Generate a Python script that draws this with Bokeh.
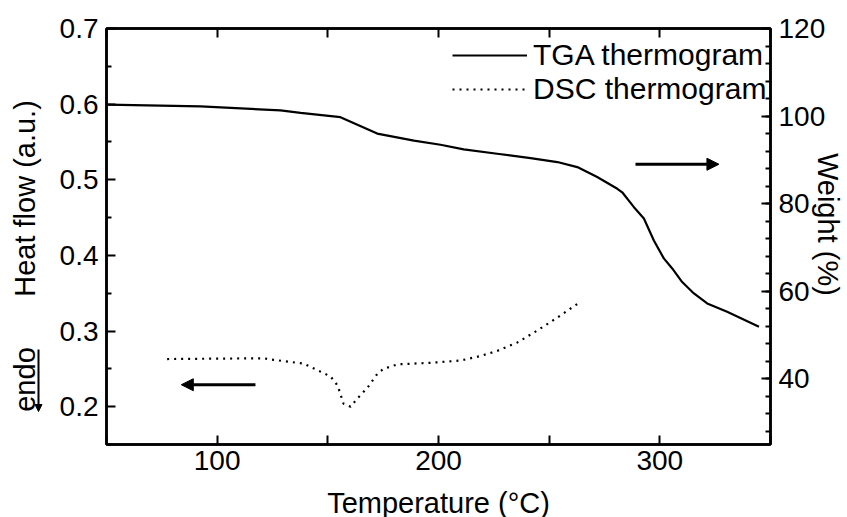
from math import pi
from bokeh.plotting import figure
from bokeh.layouts import row, column
from bokeh.models import (Range1d, LinearAxis, SingleIntervalTicker, FixedTicker,
                          Legend, LegendItem, Label, Arrow, NormalHead)
from bokeh.embed import file_html
from bokeh.resources import INLINE

# ---- data ----
tga_temp = [50.3, 92.5, 128.6, 137.7, 155.7, 172.3, 188.9, 200.9, 211.4, 226.5,
            241.6, 253.7, 262.7, 271.7, 280.8, 283.0, 288.3, 292.8, 297.3, 301.8,
            305.6, 310.1, 315.4, 321.4, 330.4, 344.8]
tga_weight = [102.6, 102.2, 101.3, 100.75, 99.75, 96.0, 94.4, 93.45, 92.4, 91.4,
              90.4, 89.5, 88.35, 86.1, 83.4, 82.6, 79.2, 76.6, 71.6, 67.5,
              65.2, 62.1, 59.5, 57.2, 55.3, 51.9]
dsc_temp = [77.4, 120.9, 125.5, 139.0, 151.2, 154.4, 157.1, 160.3, 163.4, 167.9,
            172.5, 175.2, 181.5, 196.4, 210.0, 219.0, 226.7, 235.7, 244.8, 253.8, 262.8]
dsc_heat = [0.263, 0.264, 0.262, 0.257, 0.240, 0.228, 0.204, 0.200, 0.211, 0.225,
            0.244, 0.250, 0.256, 0.258, 0.261, 0.267, 0.274, 0.285, 0.301, 0.318, 0.336]

x_major = [100, 200, 300]
x_minor = [50, 150, 250, 350]
heat_major = [0.2, 0.3, 0.4, 0.5, 0.6, 0.7]
heat_minor = [0.15, 0.25, 0.35, 0.45, 0.55, 0.65]
x_range = (50, 350)
heat_range = (0.15, 0.7)
weight_range = (25, 120)

# arrows pointing to the relevant axis (data units)
dsc_arrow = dict(x0=117.3, x1=83.8, y=0.229)
tga_arrow = dict(x0=289.0, x1=326.7, y=89.0)

FONT = "Liberation Sans"
TICK_FS = "28px"
LABEL_FS = "29px"
NBSP = "\u00a0"

W, H = 847, 517
BOTTOM_H = 30                      # strip under the plot holding the x-axis title
TOP_H = H - BOTTOM_H
FRAME_L, FRAME_R = 106, 770
FRAME_TOP, FRAME_BOTTOM = 28, 444
STRIP_W = 48

# ---------- left strip holding the left-hand axis title ----------
strip = figure(width=STRIP_W, height=TOP_H, x_range=Range1d(0, STRIP_W),
               y_range=Range1d(0, FRAME_BOTTOM - FRAME_TOP),
               output_backend="svg", toolbar_location=None,
               min_border_left=0, min_border_right=0,
               min_border_top=FRAME_TOP, min_border_bottom=TOP_H - FRAME_BOTTOM,
               x_axis_location=None, y_axis_location=None)
strip.grid.visible = False
strip.outline_line_color = None
strip.background_fill_color = "white"
strip.border_fill_color = "white"
strip.add_layout(Label(x=24, y=FRAME_BOTTOM - 198, text="Heat flow (a.u.)", angle=pi / 2,
                       text_align="center", text_baseline="middle",
                       text_font=FONT, text_font_size=LABEL_FS, text_color="black"))
strip.add_layout(Label(x=24, y=FRAME_BOTTOM - 379, text="endo", angle=pi / 2,
                       text_align="center", text_baseline="middle",
                       text_font=FONT, text_font_size=LABEL_FS, text_color="black"))
strip.add_layout(Arrow(x_start=38, y_start=FRAME_BOTTOM - 349, x_end=38, y_end=FRAME_BOTTOM - 411,
                       line_width=2, line_color="black",
                       end=NormalHead(size=7, fill_color="black", line_color="black")))

# ---------- main plot ----------
p = figure(width=W - STRIP_W, height=TOP_H, x_range=Range1d(*x_range), y_range=Range1d(*heat_range),
           output_backend="svg", toolbar_location=None,
           min_border_left=FRAME_L - STRIP_W, min_border_right=W - FRAME_R,
           min_border_top=FRAME_TOP, min_border_bottom=TOP_H - FRAME_BOTTOM)
p.extra_y_ranges = {"w": Range1d(*weight_range)}
p.grid.visible = False
p.background_fill_color = "white"
p.border_fill_color = "white"
p.outline_line_color = "black"
p.outline_line_width = 2.5


def style_axis(ax):
    ax.axis_line_width = 2.5
    ax.axis_line_color = "black"
    ax.major_tick_in = 9
    ax.major_tick_out = 0
    ax.minor_tick_in = 5
    ax.minor_tick_out = 0
    ax.major_tick_line_width = 2
    ax.minor_tick_line_width = 2
    ax.major_tick_line_color = "black"
    ax.minor_tick_line_color = "black"
    ax.major_label_text_font = FONT
    ax.major_label_text_font_size = TICK_FS
    ax.major_label_text_color = "black"
    ax.major_label_standoff = 8
    ax.axis_label_text_font = FONT
    ax.axis_label_text_font_size = LABEL_FS
    ax.axis_label_text_font_style = "normal"
    ax.axis_label_text_color = "black"


# bottom axis
xa = p.xaxis[0]
xa.ticker = FixedTicker(ticks=x_major, minor_ticks=x_minor)
style_axis(xa)
xa.minor_tick_in = 9
xa.major_label_standoff = 6

# left axis
ya = p.yaxis[0]
ya.ticker = FixedTicker(ticks=heat_major, minor_ticks=heat_minor)
style_axis(ya)

# right axis (weight)
ra = LinearAxis(y_range_name="w", ticker=SingleIntervalTicker(interval=20, num_minor_ticks=5))
style_axis(ra)
ra.axis_label = "Weight (%)" + NBSP * 3
ra.axis_label_standoff = -16
p.add_layout(ra, "right")

# top axis: ticks only
ta = LinearAxis(ticker=FixedTicker(ticks=x_major, minor_ticks=x_minor),
                major_label_overrides={t: "" for t in x_major})
style_axis(ta)
ta.minor_tick_in = 9
ta.major_label_text_font_size = "0px"
ta.major_label_standoff = 0
p.add_layout(ta, "above")

tga = p.line(tga_temp, tga_weight, y_range_name="w", line_color="black", line_width=2.2)
dsc = p.line(dsc_temp, dsc_heat, line_color="black", line_width=2.2, line_dash="2 5")

legend = Legend(items=[LegendItem(label="TGA thermogram", renderers=[tga]),
                       LegendItem(label="DSC thermogram", renderers=[dsc])],
                location=(346, 338), margin=0, padding=0, spacing=0,
                glyph_width=75, label_standoff=6,
                label_text_font=FONT, label_text_font_size="30px", label_text_color="black",
                border_line_color=None, background_fill_alpha=0)
p.add_layout(legend)

# arrows
p.add_layout(Arrow(x_start=dsc_arrow["x0"], y_start=dsc_arrow["y"], x_end=dsc_arrow["x1"], y_end=dsc_arrow["y"],
                   line_width=3, line_color="black",
                   end=NormalHead(size=12, fill_color="black", line_color="black")))
p.add_layout(Arrow(x_start=tga_arrow["x0"], y_start=tga_arrow["y"], x_end=tga_arrow["x1"], y_end=tga_arrow["y"],
                   y_range_name="w", line_width=3, line_color="black",
                   end=NormalHead(size=12, fill_color="black", line_color="black")))

# ---------- bottom strip holding the x-axis title ----------
bstrip = figure(width=W, height=BOTTOM_H, x_range=p.x_range, y_range=Range1d(0, BOTTOM_H),
                output_backend="svg", toolbar_location=None,
                min_border_left=FRAME_L, min_border_right=W - FRAME_R,
                min_border_top=0, min_border_bottom=0,
                x_axis_location=None, y_axis_location=None)
bstrip.grid.visible = False
bstrip.outline_line_color = None
bstrip.background_fill_color = "white"
bstrip.border_fill_color = "white"
bstrip.add_layout(Label(x=(x_range[0] + x_range[1]) / 2, y=BOTTOM_H / 2, text="Temperature (°C)",
                        text_align="center", text_baseline="middle",
                        text_font=FONT, text_font_size=LABEL_FS, text_color="black"))

layout = column(row(strip, p, spacing=0), bstrip, spacing=0)
open("out.html", "w").write(file_html(layout, INLINE))
